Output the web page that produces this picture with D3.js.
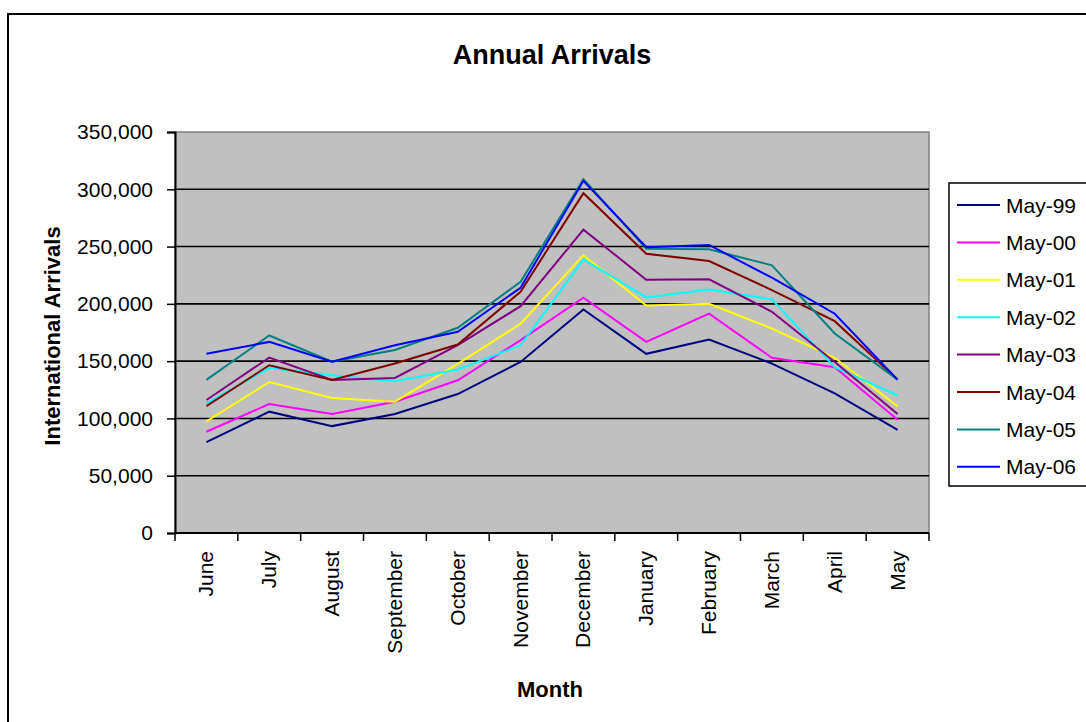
<!DOCTYPE html>
<html>
<head>
<meta charset="utf-8">
<script src="https://cdn.jsdelivr.net/npm/d3@7"></script>
<style>
  html, body { margin: 0; padding: 0; background: #fff; }
  svg { display: block; font-family: "Liberation Sans", Arial, sans-serif; }
</style>
</head>
<body>
<svg id="chart" width="1086" height="722"></svg>
<script>
// Months of the arrival year (June through May)
const months = ["June", "July", "August", "September", "October", "November",
                "December", "January", "February", "March", "April", "May"];

// Series names (year ending) and line colours
const seriesNames = ["May-99", "May-00", "May-01", "May-02", "May-03", "May-04", "May-05", "May-06"];
const seriesColors = ["#000080", "#FF00FF", "#FFFF00", "#00FFFF", "#800080", "#800000", "#008080", "#0000FF"];

// International arrivals per month, one array per year
const may99 = [79300, 105900, 93300, 103800, 121300, 149300, 195100, 156400, 168900, 147900, 121900, 90100];
const may00 = [88400, 112600, 103800, 114600, 133300, 168300, 205300, 166800, 191400, 152900, 144700, 98900];
const may01 = [97400, 131800, 117800, 114600, 147600, 182600, 242400, 198600, 200100, 178500, 152900, 110500];
const may02 = [113200, 144100, 137700, 132400, 142600, 163900, 238900, 205600, 212600, 203900, 144700, 120200];
const may03 = [116100, 153100, 133600, 135300, 163900, 198000, 264800, 221100, 221400, 193100, 149300, 103800];
const may04 = [110800, 146400, 133600, 147900, 164500, 210600, 296600, 243800, 237400, 212000, 184900, 133900];
const may05 = [133600, 172400, 149600, 159800, 179100, 219300, 308900, 248200, 247600, 233600, 174100, 133900];
const may06 = [156400, 166800, 149600, 163900, 175600, 214100, 307400, 249400, 251400, 222800, 191400, 133900];
const seriesValues = [may99, may00, may01, may02, may03, may04, may05, may06];

// Value axis ticks
const yTicks = [0, 50000, 100000, 150000, 200000, 250000, 300000, 350000];

const svg = d3.select("#chart");
const FONT = "'Liberation Sans', Arial, sans-serif";

// Outer chart frame
svg.append("rect")
  .attr("x", 8).attr("y", 14).attr("width", 1100).attr("height", 720)
  .attr("fill", "#fff").attr("stroke", "#000").attr("stroke-width", 2);

const plot = { left: 175, right: 929, top: 132, bottom: 533 };

const x = d3.scaleBand().domain(months).range([plot.left, plot.right]).paddingInner(0).paddingOuter(0);
const y = d3.scaleLinear().domain([0, 350000]).range([plot.bottom, plot.top]);

// Plot area background
svg.append("rect")
  .attr("x", plot.left).attr("y", plot.top)
  .attr("width", plot.right - plot.left).attr("height", plot.bottom - plot.top)
  .attr("fill", "#C0C0C0").attr("stroke", "#808080").attr("stroke-width", 1.5);

// Horizontal gridlines
svg.append("g").selectAll("line")
  .data(yTicks.filter(d => d > 0 && d < 350000))
  .join("line")
  .attr("x1", plot.left).attr("x2", plot.right)
  .attr("y1", d => y(d)).attr("y2", d => y(d))
  .attr("stroke", "#000").attr("stroke-width", 1.6);

// Value axis
const yAxis = d3.axisLeft(y).tickValues(yTicks).tickSize(8).tickPadding(14)
  .tickFormat(d3.format(","));
const gy = svg.append("g").attr("transform", `translate(${plot.left},0)`).call(yAxis);
gy.select(".domain").attr("stroke", "#000").attr("stroke-width", 2);
gy.selectAll(".tick line").attr("stroke", "#000").attr("stroke-width", 1.5);
gy.selectAll(".tick text").attr("font-size", 21).attr("font-family", FONT).attr("fill", "#000");

// Category axis: ticks sit on category boundaries
const gx = svg.append("g");
gx.append("line")
  .attr("x1", plot.left).attr("x2", plot.right)
  .attr("y1", plot.bottom).attr("y2", plot.bottom)
  .attr("stroke", "#000").attr("stroke-width", 2);
const boundaries = months.map(m => x(m)).concat([x(months[months.length - 1]) + x.bandwidth()]);
gx.selectAll("line.tk").data(boundaries).join("line")
  .attr("class", "tk")
  .attr("x1", d => d).attr("x2", d => d)
  .attr("y1", plot.bottom).attr("y2", plot.bottom + 8)
  .attr("stroke", "#000").attr("stroke-width", 1.5);
gx.selectAll("text").data(months).join("text")
  .attr("transform", d => `translate(${x(d) + x.bandwidth() / 2 + 7},${plot.bottom + 18}) rotate(-90)`)
  .attr("text-anchor", "end")
  .attr("font-size", 21).attr("font-family", FONT).attr("fill", "#000")
  .text(d => d);

// Series lines
const line = d3.line()
  .x((d, i) => x(months[i]) + x.bandwidth() / 2)
  .y(d => y(d));
svg.append("g").selectAll("path")
  .data(seriesValues)
  .join("path")
  .attr("d", d => line(d))
  .attr("fill", "none")
  .attr("stroke", (d, i) => seriesColors[i])
  .attr("stroke-width", 2)
  .attr("stroke-linejoin", "miter");

// Titles
svg.append("text")
  .attr("x", 552).attr("y", 64)
  .attr("text-anchor", "middle").attr("font-size", 27).attr("font-weight", "bold")
  .attr("font-family", FONT).text("Annual Arrivals");
svg.append("text")
  .attr("x", 550).attr("y", 697)
  .attr("text-anchor", "middle").attr("font-size", 22).attr("font-weight", "bold")
  .attr("font-family", FONT).text("Month");
svg.append("text")
  .attr("transform", "translate(60,336) rotate(-90)")
  .attr("text-anchor", "middle").attr("font-size", 22).attr("font-weight", "bold")
  .attr("font-family", FONT).text("International Arrivals");

// Legend
const legend = svg.append("g");
legend.append("rect")
  .attr("x", 949).attr("y", 183).attr("width", 200).attr("height", 303)
  .attr("fill", "#fff").attr("stroke", "#000").attr("stroke-width", 1.5);
const items = legend.selectAll("g.item").data(seriesNames).join("g")
  .attr("class", "item")
  .attr("transform", (d, i) => `translate(0,${205 + i * 37.4})`);
items.append("line")
  .attr("x1", 957).attr("x2", 1000).attr("y1", 0).attr("y2", 0)
  .attr("stroke", (d, i) => seriesColors[i]).attr("stroke-width", 2);
items.append("text")
  .attr("x", 1006).attr("y", 0).attr("dy", "0.36em")
  .attr("font-size", 21).attr("font-family", FONT).attr("fill", "#000")
  .text(d => d);
</script>
</body>
</html>
